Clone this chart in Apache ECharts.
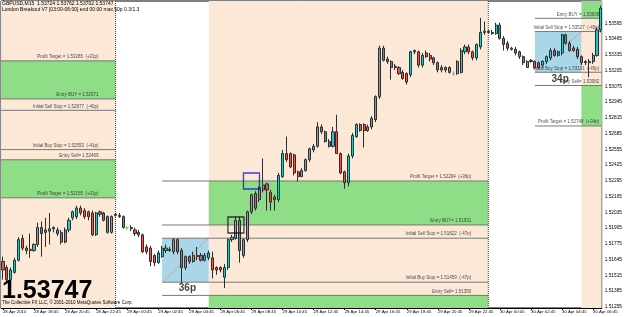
<!DOCTYPE html>
<html>
<head>
<meta charset="utf-8">
<script src="https://cdn.jsdelivr.net/npm/echarts@6.0.0/dist/echarts.min.js"></script>
<style>
  html, body { margin: 0; padding: 0; background: #fff; }
  #chart { width: 625px; height: 317px; }
</style>
</head>
<body>
<div id="chart"></div>
<script>
// GBPUSD M15, one bar every 15 min from 28 Apr 2010 16:45
const opens = [
  1.5163,1.5158,1.5148,1.5154,1.5164,1.5182,1.5174,1.5172,1.5172,1.5177,
  1.5191,1.5187,1.5188,1.5190,1.5189,1.5187,1.5179,1.5189,1.5199,1.5200,
  1.5207,1.5205,1.5204,1.5203,1.5185,1.5204,1.5203,1.5200,1.5187,1.5202,
  1.5201,1.5200,1.5191,1.5191,1.5189,1.5187,1.5185,1.5175,1.5174,1.5168,
  1.5162,1.5167,1.5172,1.5172,1.5171,1.5181,1.5172,1.5158,1.5167,1.5163,
  1.5168,1.5168,1.5164,1.5166,1.5166,1.5158,1.5158,1.5150,1.5158,1.5181,
  1.5182,1.5197,1.5168,1.5181,1.5204,1.5219,1.5214,1.5222,1.5227,1.5220,
  1.5216,1.5214,1.5233,1.5252,1.5252,1.5251,1.5237,1.5233,1.5238,1.5247,
  1.5255,1.5258,1.5274,1.5270,1.5262,1.5258,1.5270,1.5252,1.5237,1.5228,
  1.5250,1.5266,1.5276,1.5276,1.5271,1.5274,1.5280,1.5299,1.5339,1.5330,
  1.5328,1.5324,1.5323,1.5319,1.5318,1.5317,1.5336,1.5336,1.5325,1.5335,
  1.5333,1.5331,1.5327,1.5321,1.5323,1.5323,1.5318,1.5318,1.5319,1.5336,
  1.5340,1.5336,1.5331,1.5340,1.5352,1.5352,1.5352,1.5351,1.5358,1.5347,
  1.5343,1.5338,1.5338,1.5336,1.5332,1.5323,1.5328,1.5328,1.5327,1.5325,
  1.5328,1.5331,1.5337,1.5333,1.5335,1.5350,1.5343,1.5339,1.5338,1.5332,
  1.5328,1.5327,1.5328,1.5333,1.5354,1.53724
];
const closes = [
  1.5156,1.5148,1.5156,1.5164,1.5181,1.5174,1.5172,1.5173,1.5177,1.5191,
  1.5186,1.5189,1.5190,1.5191,1.5186,1.5179,1.5189,1.5197,1.5204,1.5207,
  1.5203,1.5200,1.5200,1.5185,1.5203,1.5202,1.5197,1.5187,1.5200,1.5201,
  1.5200,1.5191,1.5191,1.5190,1.5186,1.5185,1.5171,1.5171,1.5163,1.5162,
  1.5170,1.5174,1.5174,1.5173,1.5181,1.5171,1.5158,1.5167,1.5163,1.5168,
  1.5167,1.5164,1.5168,1.5170,1.5156,1.5156,1.5156,1.5158,1.5181,1.5183,
  1.5197,1.5172,1.5181,1.5204,1.5218,1.5207,1.5224,1.5226,1.5222,1.5212,
  1.5214,1.5234,1.5252,1.5247,1.5241,1.5236,1.5233,1.5238,1.5247,1.5256,
  1.5258,1.5274,1.5270,1.5262,1.5258,1.5270,1.5252,1.5236,1.5228,1.5250,
  1.5267,1.5276,1.5271,1.5271,1.5274,1.5281,1.5299,1.5339,1.5329,1.5328,
  1.5323,1.5323,1.5318,1.5314,1.5311,1.5336,1.5337,1.5325,1.5333,1.5332,
  1.5330,1.5327,1.5321,1.5323,1.5321,1.5319,1.5318,1.5328,1.5337,1.5340,
  1.5336,1.5331,1.5342,1.5352,1.5353,1.5353,1.5351,1.5358,1.5347,1.5342,
  1.5339,1.5339,1.5335,1.5332,1.5327,1.5328,1.5329,1.5323,1.5323,1.5328,
  1.5332,1.5337,1.5333,1.5336,1.5350,1.5343,1.5337,1.5337,1.5332,1.5327,
  1.5327,1.5328,1.5333,1.5354,1.5372,1.53747
];
const lows = [
  1.5148,1.5146,1.5145,1.5153,1.5163,1.5172,1.5169,1.5166,1.5171,1.5175,
  1.5167,1.5175,1.5177,1.5187,1.5184,1.5177,1.5178,1.5187,1.5197,1.5198,
  1.5201,1.5198,1.5197,1.5184,1.5184,1.5200,1.5196,1.5186,1.5186,1.5200,
  1.5199,1.5190,1.5189,1.5188,1.5184,1.5183,1.5170,1.5169,1.5159,1.5159,
  1.5161,1.5166,1.5170,1.5171,1.5169,1.5169,1.5145,1.5156,1.5161,1.5162,
  1.5164,1.5163,1.5163,1.5164,1.5149,1.5152,1.5154,1.5141,1.5156,1.5179,
  1.5181,1.5162,1.5166,1.5179,1.5202,1.5205,1.5212,1.5220,1.5205,1.5205,
  1.5205,1.5212,1.5232,1.5245,1.5240,1.5234,1.5229,1.5233,1.5237,1.5245,
  1.5253,1.5257,1.5268,1.5261,1.5257,1.5257,1.5252,1.5235,1.5223,1.5225,
  1.5248,1.5265,1.5270,1.5257,1.5270,1.5272,1.5278,1.5297,1.5328,1.5326,
  1.5313,1.5321,1.5317,1.5313,1.5309,1.5315,1.5334,1.5323,1.5323,1.5331,
  1.5328,1.5325,1.5319,1.5319,1.5319,1.5318,1.5316,1.5317,1.5318,1.5334,
  1.5334,1.5329,1.5329,1.5338,1.5350,1.5351,1.5350,1.5350,1.5346,1.5337,
  1.5337,1.5337,1.5333,1.5330,1.5325,1.5323,1.5327,1.5322,1.5322,1.5323,
  1.5326,1.5329,1.5332,1.5332,1.5333,1.5342,1.5336,1.5336,1.5330,1.5325,
  1.5325,1.5315,1.5326,1.5332,1.5352,1.53702
];
const highs = [
  1.5167,1.5160,1.5158,1.5166,1.5183,1.5185,1.5176,1.5186,1.5178,1.5195,
  1.5196,1.5199,1.5203,1.5192,1.5191,1.5189,1.5191,1.5199,1.5205,1.5209,
  1.5209,1.5207,1.5205,1.5205,1.5204,1.5205,1.5204,1.5201,1.5201,1.5203,
  1.5203,1.5201,1.5192,1.5193,1.5191,1.5189,1.5186,1.5177,1.5176,1.5169,
  1.5172,1.5176,1.5177,1.5175,1.5182,1.5182,1.5174,1.5168,1.5168,1.5171,
  1.5175,1.5170,1.5170,1.5172,1.5171,1.5159,1.5159,1.5161,1.5182,1.5185,
  1.5200,1.5200,1.5182,1.5205,1.5219,1.5221,1.5225,1.5248,1.5228,1.5222,
  1.5218,1.5236,1.5255,1.5266,1.5253,1.5252,1.5238,1.5240,1.5248,1.5257,
  1.5260,1.5278,1.5276,1.5271,1.5264,1.5274,1.5284,1.5253,1.5238,1.5252,
  1.5269,1.5277,1.5277,1.5277,1.5276,1.5283,1.5300,1.5341,1.5341,1.5332,
  1.5329,1.5326,1.5324,1.5321,1.5319,1.5337,1.5338,1.5337,1.5335,1.5337,
  1.5335,1.5332,1.5328,1.5325,1.5324,1.5324,1.5320,1.5329,1.5339,1.5342,
  1.5342,1.5337,1.5343,1.5364,1.5361,1.5354,1.5354,1.5360,1.5360,1.5349,
  1.5345,1.5340,1.5340,1.5337,1.5333,1.5329,1.5330,1.5329,1.5328,1.5329,
  1.5333,1.5339,1.5339,1.5337,1.5351,1.5351,1.5345,1.5341,1.5340,1.5333,
  1.5329,1.5330,1.5335,1.5356,1.5374,1.53762
];

// time axis: a label every 8 bars
const timeTicks = [0, 8, 16, 24, 32, 40, 48, 56, 64, 72, 80, 88, 96, 104, 112, 120, 128, 136, 144, 152];
const timeLabels = [
  '28 Apr 2010', '28 Apr 18:45', '28 Apr 20:45', '28 Apr 22:45', '29 Apr 00:45',
  '29 Apr 02:45', '29 Apr 04:45', '29 Apr 06:45', '29 Apr 08:45', '29 Apr 10:45',
  '29 Apr 12:45', '29 Apr 14:45', '29 Apr 16:45', '29 Apr 18:45', '29 Apr 20:45',
  '29 Apr 22:45', '30 Apr 00:45', '30 Apr 02:45', '30 Apr 04:45', '30 Apr 06:45'
];
const priceTicks = [
  1.51255, 1.51385, 1.51515, 1.51645, 1.51775, 1.51905, 1.52035, 1.52165, 1.52295, 1.52425,
  1.52555, 1.52685, 1.52815, 1.52945, 1.53075, 1.53205, 1.53335, 1.53465, 1.53595
];

// session markers (bar indices): midnights, 03:00-06:00 range boxes
const midnightBars = [29, 125];
const boxStart = [41, 137];
const boxEnd = [53, 149];
const boxLow = [1.51459, 1.53191];
const boxHigh = [1.51822, 1.53527];
const boxPips = ['36p', '34p'];

// breakout levels per day
const day1Prices = [1.53285, 1.52971, 1.52877, 1.52553, 1.52469, 1.52155];
const day1Texts = ['Profit Target = 1.53285  (+31p)', 'Entry BUY = 1.52971', 'Initial Sell Stop = 1.52877  (-40p)',
  'Initial Buy Stop = 1.52553  (-41p)', 'Entry Sell= 1.52469', 'Profit Target = 1.52155  (+31p)'];
const day2Prices = [1.52294, 1.51931, 1.51822, 1.51459, 1.51350];
const day2Texts = ['Profit Target = 1.52294  (+36p)', 'Entry BUY= 1.51931', 'Initial Sell Stop = 1.51822  (-47p)',
  'Initial Buy Stop = 1.51459  (-47p)', 'Entry Sell= 1.51350'];
const day3Prices = [1.53636, 1.53527, 1.53191, 1.53082, 1.52748];
const day3Texts = ['Entry BUY = 1.53636', 'Initial Sell Stop = 1.53527  (-45p)', 'Initial Buy Stop = 1.53191  (-45p)',
  'Entry Sell= 1.53082', 'Profit Target = 1.52748  (+34p)'];

// trigger squares
const signalBars = [64, 60];
const signalPrices = [1.52294, 1.51931];

const xMin = -0.5, xMax = 154.2;
const yMin = 1.51246, yMax = 1.53779;
const BEIGE = '#fbe8d7', GREEN = '#8edd87', BLUE = '#a9d7e7';
const FONT = 'Liberation Sans';

const chart = echarts.init(document.getElementById('chart'));

const candles = opens.map((o, i) => {
  const item = { value: [i, o, closes[i], lows[i], highs[i]] };
  if (o === closes[i]) {
    item.itemStyle = { borderColor: '#5fd33a', borderColor0: '#5fd33a', color: '#5fd33a', color0: '#5fd33a' };
  }
  return item;
});

function area(x0, x1, color, p0, p1) {
  const a = { xAxis: x0, itemStyle: { color } };
  const b = { xAxis: x1 };
  if (p0 != null) { a.yAxis = p0; b.yAxis = p1; }
  return [a, b];
}

const zones = [
  area(xMin, midnightBars[0], BEIGE),
  area(boxEnd[0], midnightBars[1], BEIGE),
  area(boxEnd[1], xMax, BEIGE),
  area(xMin, midnightBars[0], GREEN, day1Prices[1], day1Prices[0]),
  area(xMin, midnightBars[0], GREEN, day1Prices[5], day1Prices[4]),
  area(boxEnd[0], midnightBars[1], GREEN, day2Prices[1], day2Prices[0]),
  area(boxEnd[0], midnightBars[1], GREEN, yMin, day2Prices[4]),
  area(boxEnd[1], xMax, GREEN, day3Prices[0], yMax),
  area(boxEnd[1], xMax, GREEN, day3Prices[4], day3Prices[3]),
  area(boxStart[0], boxEnd[0], BLUE, boxLow[0], boxHigh[0]),
  area(boxStart[1], boxEnd[1], BLUE, boxLow[1], boxHigh[1])
];

function segment(points, color, type, z) {
  return {
    type: 'line', data: points, symbol: 'none', silent: true, z: z || 2,
    lineStyle: { color, width: 1, type: type || 'solid' }
  };
}

function levelLines(prices, x0, x1) {
  return prices.map(p => segment([[x0, p], [x1, p]], '#777'));
}

function levelText(prices, texts, xRight) {
  return {
    type: 'scatter', symbolSize: 1, silent: true, z: 4,
    itemStyle: { color: 'rgba(0,0,0,0)' },
    data: prices.map((p, i) => ({ value: [xRight, p], name: texts[i] })),
    label: {
      show: true, formatter: '{b}', position: [0, 0], align: 'right', verticalAlign: 'bottom',
      fontSize: 4.5, fontFamily: FONT, color: '#222', padding: [0, 0, 1, 0]
    }
  };
}

const lastClose = closes[closes.length - 1];

const series = [
  {
    type: 'candlestick', z: 3, barWidth: 2.6, clip: true,
    data: candles,
    itemStyle: {
      color: '#22c8c8', color0: '#d65e5a',
      borderColor: '#2d2d2d', borderColor0: '#2d2d2d', borderWidth: 1
    },
    markArea: { silent: true, label: { show: false }, data: zones },
    markLine: {
      silent: true, symbol: 'none', animation: false,
      lineStyle: { width: 0, opacity: 0 },
      data: [{ yAxis: lastClose }],
      label: {
        show: true, position: 'end', distance: 1, formatter: lastClose.toFixed(5),
        backgroundColor: '#000', color: '#fff', fontSize: 4.8, fontFamily: FONT, padding: [1, 2, 1, 2]
      }
    }
  },
  ...levelLines(day1Prices, xMin, midnightBars[0]),
  ...levelLines(day2Prices, boxStart[0], midnightBars[1]),
  ...levelLines(day3Prices, boxStart[1], xMax),
  ...midnightBars.map(b => segment([[b, yMin], [b, yMax]], '#444', 'dotted')),
  ...boxStart.map((b, i) => segment([[b, boxLow[i]], [boxEnd[i], boxHigh[i]]], '#e07a7a', 'dotted')),
  levelText(day1Prices, day1Texts, midnightBars[0] - 4.25),
  levelText(day2Prices, day2Texts, midnightBars[1] - 4.25),
  levelText(day3Prices, day3Texts, xMax - 0.5),
  {
    type: 'scatter', symbol: 'rect', symbolSize: 16, silent: true, z: 4,
    data: signalBars.map((b, i) => ({
      value: [b, signalPrices[i]],
      itemStyle: { color: 'rgba(0,0,0,0)', borderColor: i === 0 ? '#1010ee' : '#111', borderWidth: 1.3 }
    }))
  },
  {
    type: 'scatter', symbolSize: 1, silent: true, z: 4,
    itemStyle: { color: 'rgba(0,0,0,0)' },
    data: boxStart.map((b, i) => ({ value: [(b + boxEnd[i]) / 2 + 0.5, boxLow[i]], name: boxPips[i] })),
    label: {
      show: true, formatter: '{b}', position: 'bottom', distance: 1,
      fontSize: 10, fontWeight: 'bold', fontFamily: FONT, color: '#111'
    }
  }
];

const header1 = 'GBPUSD,M15  ' + [opens, highs, lows, closes].map(a => a[a.length - 1].toFixed(5)).join(' ');
const header2 = 'London Breakout V7 [03:00-06:00] end 00:00 max 50p 0.3/1.3';

chart.setOption({
  animation: false,
  grid: { left: 0, right: 18, top: 1, bottom: 9, show: true, borderColor: '#000', borderWidth: 1, backgroundColor: '#fff' },
  xAxis: {
    type: 'value', min: xMin, max: xMax,
    axisLine: { show: true, onZero: false, lineStyle: { color: '#000' } },
    axisTick: { show: true, length: 2, customValues: timeTicks, lineStyle: { color: '#000' } },
    axisLabel: {
      customValues: timeTicks, formatter: v => timeLabels[timeTicks.indexOf(v)],
      align: 'left', margin: 1.5, fontSize: 4.3, fontFamily: FONT, color: '#000'
    },
    splitLine: { show: false }
  },
  yAxis: {
    type: 'value', min: yMin, max: yMax, position: 'right',
    axisLine: { show: true, lineStyle: { color: '#000' } },
    axisTick: { show: true, length: 2, customValues: priceTicks, lineStyle: { color: '#000' } },
    axisLabel: {
      customValues: priceTicks, formatter: v => v.toFixed(5),
      margin: 3, fontSize: 4.8, fontFamily: FONT, color: '#000'
    },
    splitLine: { show: false }
  },
  graphic: [
    { type: 'text', left: 2, top: 1, z: 10, style: { text: header1, font: '5px "Liberation Sans"', fill: '#000' } },
    { type: 'text', left: 2, top: 7, z: 10, style: { text: header2, font: '5px "Liberation Sans"', fill: '#000' } },
    { type: 'text', left: 2, top: 279, z: 10, style: { text: lastClose.toFixed(5), font: 'bold 25px "Liberation Sans"', fill: '#000' } },
    { type: 'text', left: 2, top: 300, z: 10, style: { text: 'The Collective FX LLC, \u00a9 2001-2010 MetaQuotes Software Corp.', font: '4.5px "Liberation Sans"', fill: '#000' } }
  ],
  series
});
</script>
</body>
</html>
